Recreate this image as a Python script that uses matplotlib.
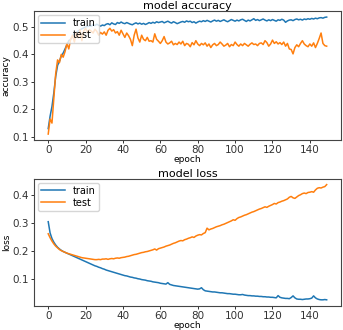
import matplotlib
matplotlib.use("Agg")
import matplotlib.pyplot as plt
import numpy as np

acc_train = [
    0.130, 0.175, 0.210, 0.260, 0.320, 0.360, 0.375, 0.395, 0.405, 0.420,
    0.435, 0.450, 0.455, 0.465, 0.475, 0.480, 0.485, 0.490, 0.493, 0.497,
    0.500, 0.502, 0.504, 0.503, 0.508, 0.505, 0.510, 0.506, 0.503, 0.507,
    0.505, 0.510, 0.512, 0.508, 0.515, 0.511, 0.509, 0.516, 0.513, 0.518,
    0.514, 0.512, 0.516, 0.513, 0.510, 0.508, 0.512, 0.515, 0.511, 0.514,
    0.510, 0.513, 0.509, 0.512, 0.516, 0.513, 0.517, 0.514, 0.519, 0.516,
    0.518, 0.520, 0.515, 0.518, 0.521, 0.517, 0.514, 0.519, 0.516, 0.512,
    0.515, 0.518, 0.520, 0.517, 0.522, 0.519, 0.521, 0.516, 0.519, 0.514,
    0.518, 0.521, 0.519, 0.523, 0.520, 0.524, 0.521, 0.518, 0.522, 0.525,
    0.521, 0.524, 0.520, 0.523, 0.526, 0.522, 0.519, 0.523, 0.527, 0.524,
    0.521, 0.525, 0.522, 0.526, 0.528, 0.524, 0.520, 0.525, 0.522, 0.526,
    0.530, 0.524, 0.527, 0.523, 0.526, 0.529, 0.525, 0.522, 0.526, 0.523,
    0.527, 0.524, 0.521, 0.526, 0.524, 0.528, 0.525, 0.517, 0.522, 0.525,
    0.526, 0.523, 0.527, 0.529, 0.526, 0.528, 0.525, 0.529, 0.527, 0.530,
    0.528, 0.531, 0.529, 0.532, 0.530, 0.533, 0.534, 0.532, 0.535, 0.536,
]
acc_test = [
    0.110, 0.165, 0.150, 0.240, 0.330, 0.380, 0.370, 0.400, 0.390, 0.410,
    0.440, 0.420, 0.455, 0.470, 0.445, 0.480, 0.460, 0.490, 0.450, 0.485,
    0.495, 0.480, 0.490, 0.485, 0.478, 0.492, 0.484, 0.470, 0.480, 0.474,
    0.482, 0.470, 0.488, 0.495, 0.485, 0.490, 0.478, 0.483, 0.470, 0.488,
    0.475, 0.462, 0.478, 0.468, 0.455, 0.432, 0.470, 0.492, 0.460, 0.445,
    0.470, 0.455, 0.450, 0.462, 0.448, 0.450, 0.445, 0.475, 0.455, 0.448,
    0.440, 0.450, 0.465, 0.445, 0.438, 0.442, 0.448, 0.435, 0.440, 0.436,
    0.445, 0.438, 0.448, 0.432, 0.440, 0.437, 0.428, 0.443, 0.435, 0.450,
    0.438, 0.432, 0.440, 0.435, 0.442, 0.430, 0.438, 0.425, 0.435, 0.440,
    0.432, 0.436, 0.445, 0.438, 0.430, 0.434, 0.440, 0.428, 0.436, 0.432,
    0.445, 0.436, 0.430, 0.438, 0.432, 0.440, 0.435, 0.430, 0.437, 0.442,
    0.436, 0.438, 0.432, 0.440, 0.442, 0.436, 0.450, 0.443, 0.430, 0.438,
    0.452, 0.440, 0.446, 0.438, 0.443, 0.436, 0.445, 0.430, 0.440, 0.420,
    0.418, 0.402, 0.425, 0.435, 0.428, 0.440, 0.450, 0.438, 0.432, 0.428,
    0.438, 0.430, 0.442, 0.425, 0.440, 0.458, 0.478, 0.440, 0.432, 0.430,
]
loss_train = [
    0.305, 0.265, 0.245, 0.232, 0.222, 0.214, 0.208, 0.203, 0.199, 0.196,
    0.193, 0.190, 0.187, 0.184, 0.181, 0.178, 0.175, 0.172, 0.169, 0.166,
    0.163, 0.160, 0.157, 0.154, 0.151, 0.148, 0.146, 0.143, 0.141, 0.138,
    0.136, 0.133, 0.131, 0.129, 0.127, 0.125, 0.123, 0.121, 0.119, 0.117,
    0.115, 0.113, 0.112, 0.110, 0.108, 0.107, 0.105, 0.104, 0.102, 0.101,
    0.099, 0.098, 0.097, 0.095, 0.094, 0.093, 0.091, 0.090, 0.089, 0.088,
    0.086, 0.085, 0.084, 0.083, 0.088, 0.082, 0.080, 0.078, 0.077, 0.076,
    0.075, 0.074, 0.073, 0.072, 0.071, 0.070, 0.069, 0.068, 0.067, 0.066,
    0.065, 0.066, 0.070, 0.063, 0.059, 0.058, 0.057, 0.056, 0.055, 0.055,
    0.054, 0.053, 0.052, 0.052, 0.051, 0.050, 0.049, 0.049, 0.048, 0.047,
    0.047, 0.046, 0.045, 0.045, 0.046, 0.044, 0.043, 0.042, 0.042, 0.041,
    0.041, 0.040, 0.040, 0.039, 0.039, 0.038, 0.038, 0.037, 0.037, 0.036,
    0.036, 0.035, 0.034, 0.042, 0.036, 0.034, 0.033, 0.032, 0.032, 0.031,
    0.035, 0.041, 0.034, 0.030, 0.029, 0.029, 0.028, 0.029, 0.030, 0.030,
    0.031, 0.033, 0.041, 0.034, 0.030, 0.028, 0.027, 0.027, 0.028, 0.027,
]
loss_test = [
    0.262, 0.248, 0.236, 0.226, 0.218, 0.212, 0.206, 0.202, 0.199, 0.196,
    0.193, 0.191, 0.189, 0.187, 0.185, 0.183, 0.181, 0.179, 0.177, 0.176,
    0.175, 0.174, 0.173, 0.172, 0.171, 0.170, 0.170, 0.171, 0.170, 0.172,
    0.172, 0.173, 0.171, 0.173, 0.174, 0.173, 0.175, 0.176, 0.175, 0.177,
    0.178, 0.179, 0.181, 0.182, 0.184, 0.186, 0.188, 0.189, 0.191, 0.193,
    0.195, 0.196, 0.198, 0.199, 0.201, 0.203, 0.205, 0.208, 0.204, 0.209,
    0.211, 0.213, 0.215, 0.218, 0.220, 0.222, 0.225, 0.228, 0.230, 0.233,
    0.236, 0.238, 0.237, 0.241, 0.243, 0.246, 0.248, 0.251, 0.249, 0.254,
    0.257, 0.259, 0.258, 0.263, 0.266, 0.282, 0.276, 0.279, 0.281, 0.284,
    0.287, 0.289, 0.291, 0.294, 0.296, 0.299, 0.302, 0.305, 0.308, 0.312,
    0.310, 0.316, 0.320, 0.322, 0.325, 0.328, 0.330, 0.333, 0.336, 0.339,
    0.341, 0.344, 0.347, 0.350, 0.352, 0.355, 0.358, 0.356, 0.360, 0.363,
    0.366, 0.370, 0.368, 0.373, 0.375, 0.378, 0.380, 0.383, 0.386, 0.392,
    0.395, 0.390, 0.388, 0.393, 0.398, 0.401, 0.405, 0.407, 0.405, 0.409,
    0.410, 0.412, 0.410, 0.418, 0.424, 0.426, 0.425, 0.428, 0.430, 0.437,
]

epochs = np.arange(len(acc_train))

plt.rcParams['font.size'] = 7.5
plt.rcParams['axes.edgecolor'] = '#444444'
plt.rcParams['xtick.color'] = '#333333'
plt.rcParams['ytick.color'] = '#333333'

fig = plt.figure(figsize=(3.43, 3.30), dpi=100)
ax1 = fig.add_axes([0.100, 0.576, 0.893, 0.390])
ax2 = fig.add_axes([0.100, 0.074, 0.893, 0.384])

ax1.plot(epochs, acc_train, color='#1f77b4', lw=1.1, label='train')
ax1.plot(epochs, acc_test, color='#ff7f0e', lw=1.1, label='test')
ax1.set_title('model accuracy', fontsize=8, pad=1.5)
ax1.set_ylabel('accuracy', fontsize=6.5, labelpad=1)
ax1.set_xlabel('epoch', fontsize=6.5, labelpad=0)
ax1.legend(loc='upper left', fontsize=7, handlelength=2.5,
           borderpad=0.3, labelspacing=0.2, borderaxespad=0.4)

ax2.plot(epochs, loss_train, color='#1f77b4', lw=1.1, label='train')
ax2.plot(epochs, loss_test, color='#ff7f0e', lw=1.1, label='test')
ax2.set_title('model loss', fontsize=8, pad=1.5)
ax2.set_ylabel('loss', fontsize=6.5, labelpad=1)
ax2.set_xlabel('epoch', fontsize=6.5, labelpad=0)
ax2.legend(loc='upper left', fontsize=7, handlelength=2.5,
           borderpad=0.3, labelspacing=0.2, borderaxespad=0.4)

for ax in (ax1, ax2):
    ax.set_xticks([0, 20, 40, 60, 80, 100, 120, 140])
    ax.tick_params(length=2.5, width=0.7, pad=1.5)
    for s in ax.spines.values():
        s.set_linewidth(0.8)

fig.savefig('out.png', dpi=100)
